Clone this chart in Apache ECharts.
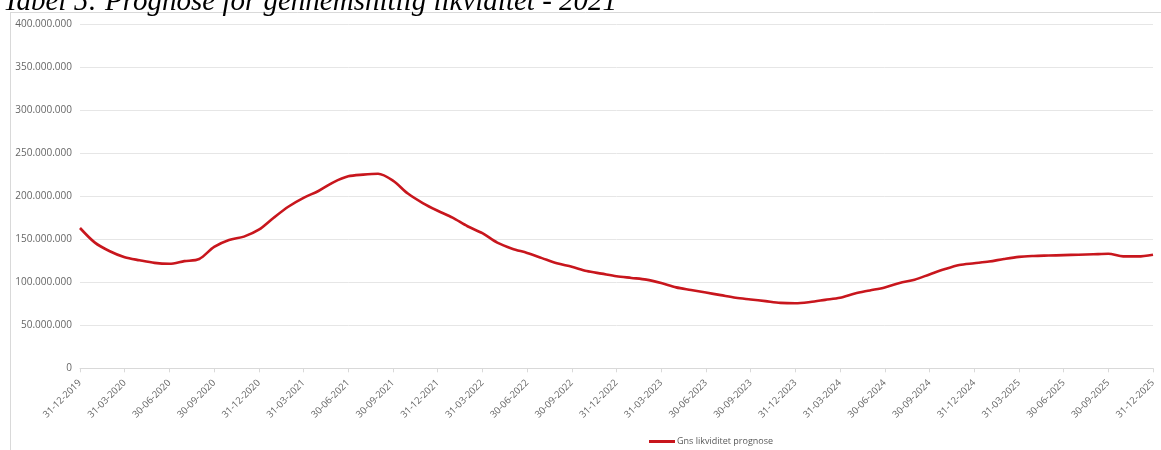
<!DOCTYPE html>
<html>
<head>
<meta charset="utf-8">
<script src="https://cdn.jsdelivr.net/npm/echarts@6/dist/echarts.min.js"></script>
<style>html,body{margin:0;padding:0;background:#fff}#c{width:1161px;height:450px}</style>
</head>
<body>
<div id="c"></div>
<script>
// Monthly month-end dates from 31-12-2019 to 31-12-2025
const categories = [];
(function(){
  for (let i = 0; i <= 72; i++) {
    const y = 2019 + Math.floor((11 + i) / 12);
    const mo = (11 + i) % 12; // 0-based
    const last = new Date(Date.UTC(y, mo + 1, 0)).getUTCDate();
    categories.push(String(last).padStart(2,'0') + '-' + String(mo + 1).padStart(2,'0') + '-' + y);
  }
})();

const seriesName = 'Gns likviditet prognose';
// values in millions
const valuesMio = [
  163, 146, 136, 129, 125.5, 122.5, 121.5, 124.5, 127, 141, 149, 153,
  161, 175, 188, 198, 206, 216, 223, 225, 226, 218, 203, 192,
  183, 175, 165, 157, 146, 139, 134, 128, 122, 118, 113, 110,
  107, 105, 103, 99, 94, 91, 88, 85, 82, 80, 78, 76,
  75.5, 77, 79.5, 82, 87, 90.5, 94, 99, 103, 109, 115, 120,
  122, 124, 127, 129.5, 130.5, 131, 131.5, 132, 132.5, 133, 130, 130,
  132
];
const yTicks = [0, 50000000, 100000000, 150000000, 200000000, 250000000, 300000000, 350000000, 400000000];
const titleText = 'Tabel 5: Prognose for gennemsnitlig likviditet - 2021';

const values = valuesMio.map(v => v * 1000000);
const fmt = v => v === 0 ? '0' : String(Math.round(v)).replace(/\B(?=(\d{3})+(?!\d))/g, '.');

const chart = echarts.init(document.getElementById('c'), null, {renderer: 'canvas'});
chart.setOption({
  animation: false,
  backgroundColor: '#fff',
  graphic: [
    {type: 'line', shape: {x1: 10.5, y1: 12, x2: 10.5, y2: 450}, style: {stroke: '#d9d9d9', lineWidth: 1}, z: 0},
    {type: 'line', shape: {x1: 10, y1: 12.5, x2: 1161, y2: 12.5}, style: {stroke: '#d9d9d9', lineWidth: 1}, z: 0},
    {type: 'text', x: 3, y: -12, style: {text: titleText, font: 'italic 29px "Liberation Serif", "DejaVu Serif", serif', fill: '#000'}, z: 10}
  ],
  grid: {left: 80, right: 8, top: 24, bottom: 81.7, containLabel: false},
  legend: {
    data: [seriesName], left: 644, top: 432, icon: 'rect', itemWidth: 26, itemHeight: 3, itemGap: 4,
    textStyle: {fontSize: 9, color: '#595959', fontFamily: '"Open Sans", "Liberation Sans", sans-serif', padding: [0,0,0,-3]}
  },
  xAxis: {
    type: 'category', data: categories, boundaryGap: false,
    axisLine: {lineStyle: {color: '#d9d9d9'}},
    axisTick: {show: true, interval: 2, length: 4, lineStyle: {color: '#d9d9d9'}},
    axisLabel: {interval: 2, rotate: 45, fontSize: 9.5, color: '#666666', margin: 13,
      fontFamily: '"Open Sans", "Liberation Sans", sans-serif'},
    splitLine: {show: false}
  },
  yAxis: {
    type: 'value', min: 0, max: 400000000, interval: 50000000,
    axisLine: {show: false}, axisTick: {show: false},
    axisLabel: {fontSize: 10, color: '#666666', margin: 8, formatter: v => fmt(v),
      fontFamily: '"Open Sans", "Liberation Sans", sans-serif'},
    splitLine: {lineStyle: {color: '#e6e6e6', width: 1}}
  },
  series: [{
    name: seriesName, type: 'line', data: values, smooth: 0.3, showSymbol: false, symbol: 'none',
    lineStyle: {color: '#c8161d', width: 2.6}, itemStyle: {color: '#c8161d'}
  }]
});
</script>
</body>
</html>
